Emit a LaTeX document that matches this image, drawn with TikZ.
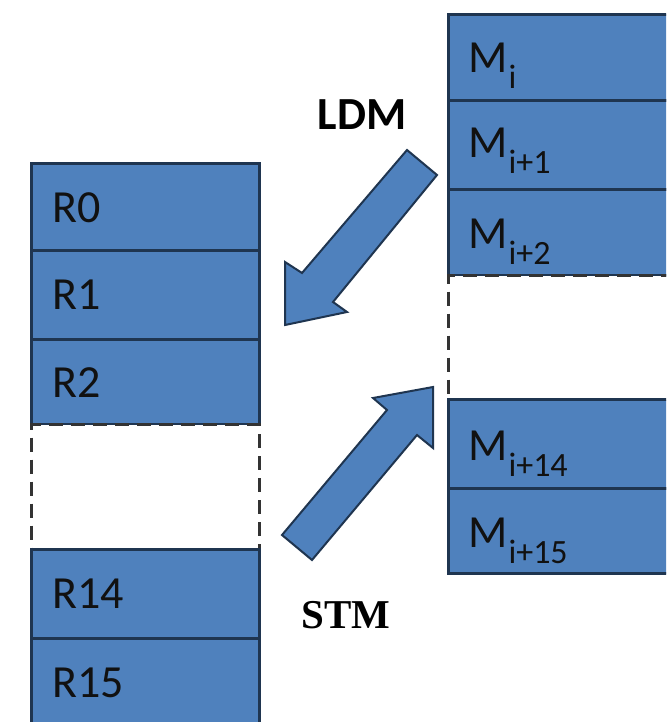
\documentclass[tikz,border=0pt]{standalone}
\usepackage{fontspec}
\setmainfont{Carlito}
\newfontfamily\stmfont{Liberation Serif}
\definecolor{cellblue}{HTML}{4F81BD}
\definecolor{celledge}{HTML}{1F3550}
\definecolor{dashgray}{HTML}{333333}
\definecolor{ink}{HTML}{111111}
\newcommand{\sbs}[1]{\kern1pt\raisebox{-16pt}{\fontsize{34}{34}\selectfont #1}}
\begin{document}
\begin{tikzpicture}[x=1pt,y=-1pt,
  cell/.style={draw=celledge, line width=3pt, fill=cellblue, rectangle, anchor=north west, inner sep=0pt},
  gapbox/.style={draw=dashgray, line width=3pt, dash pattern=on 14pt off 8pt, fill=white, rectangle, anchor=north west, inner sep=0pt},
  lbl/.style={anchor=base west, inner sep=0pt, text=ink, font=\fontsize{46}{46}\selectfont},
  blockarrow/.style={draw=celledge, line width=2pt, fill=cellblue, line join=miter},
  optext/.style={anchor=base, inner sep=0pt, text=black}
]
\useasboundingbox (0,0) rectangle (666,722);
\fill[white] (0,0) rectangle (666,722);
\clip (0,0) rectangle (666,722);

% left column (registers)
\node[cell, minimum width=228pt, minimum height=87pt] (r0) at (30,162) {};
\node[cell, minimum width=228pt, minimum height=89pt] (r1) at (30,249) {};
\node[cell, minimum width=228pt, minimum height=85pt] (r2) at (30,338) {};
\node[gapbox, minimum width=228pt, minimum height=125pt] (gl) at (30,423) {};
\node[cell, minimum width=228pt, minimum height=89pt] (r14) at (30,548) {};
\node[cell, minimum width=228pt, minimum height=100pt] (r15) at (30,637) {};

\node[lbl] (tr0) at (52,222) {R0};
\node[lbl] (tr1) at (52,309) {R1};
\node[lbl] (tr2) at (52,397) {R2};
\node[lbl] (tr14) at (52,608) {R14};
\node[lbl] (tr15) at (52,697) {R15};

% right column (memory)
\node[cell, minimum width=260pt, minimum height=86pt] (m0) at (447,13) {};
\node[cell, minimum width=260pt, minimum height=89pt] (m1) at (447,99) {};
\node[cell, minimum width=260pt, minimum height=86pt] (m2) at (447,188) {};
\node[gapbox, minimum width=260pt, minimum height=124pt] (gr) at (447,274) {};
\node[cell, minimum width=260pt, minimum height=89pt] (m14) at (447,398) {};
\node[cell, minimum width=260pt, minimum height=85pt] (m15) at (447,487) {};

\node[lbl] (tm0) at (468,73) {M\sbs{i}};
\node[lbl] (tm1) at (468,158) {M\sbs{i+1}};
\node[lbl] (tm2) at (468,248) {M\sbs{i+2}};
\node[lbl] (tm14) at (468,460) {M\sbs{i+14}};
\node[lbl] (tm15) at (468,547) {M\sbs{i+15}};

% LDM block arrow (memory -> registers)
\draw[blockarrow] (407,150) -- (437,175) -- (333,302) -- (347,312) -- (285,325)
  -- (285,262) -- (302,273) -- cycle;
\node[optext, font=\fontsize{46}{46}\selectfont\bfseries] (ldm) at (362,130) {LDM};

% STM block arrow (registers -> memory)
\draw[blockarrow] (282,535) -- (387,410) -- (373,398) -- (433,387) -- (433,448)
  -- (417,435) -- (312,560) -- cycle;
\node[optext, font=\stmfont\fontsize{41}{41}\selectfont\bfseries] (stm) at (346,628) {STM};
\end{tikzpicture}
\end{document}
